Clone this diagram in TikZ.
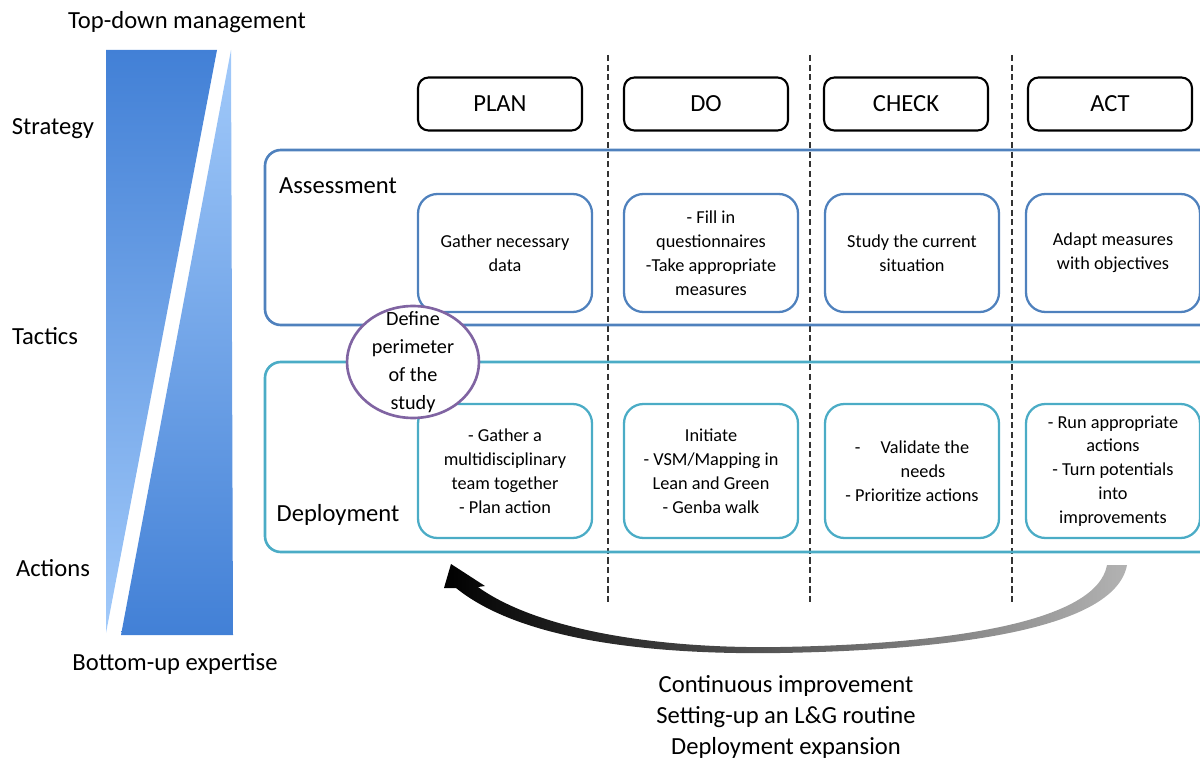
\documentclass[tikz,border=0pt]{standalone}
\usepackage{fontspec}
\setmainfont{Carlito}
\usetikzlibrary{shapes.geometric}
\definecolor{assblue}{RGB}{79,129,189}
\definecolor{depteal}{RGB}{75,172,198}
\definecolor{perpurple}{RGB}{128,100,162}
\definecolor{bardark}{RGB}{66,128,214}
\definecolor{barmid}{RGB}{92,148,224}
\definecolor{barlight}{RGB}{162,202,250}
\tikzstyle{lbl}=[font=\fontsize{14pt}{17.6pt}\selectfont,inner sep=0pt,align=center]
\tikzstyle{phase}=[draw=black,line width=1.2pt,rounded corners=6pt,minimum width=3.28cm,minimum height=1.06cm,font=\fontsize{14pt}{17pt}\selectfont]
\tikzstyle{abox}=[draw=assblue,line width=1.3pt,rounded corners=11pt,minimum width=3.48cm,minimum height=2.36cm,align=center,font=\fontsize{10.4pt}{13.6pt}\selectfont]
\tikzstyle{dbox}=[abox,draw=depteal,minimum height=2.68cm]
\tikzstyle{colsep}=[black!80,line width=0.6pt,dash pattern=on 3.5pt off 2pt]

\begin{document}
\begin{tikzpicture}[x=0.02cm,y=-0.02cm]
		\useasboundingbox (0,0) rectangle (1200,760);
		\clip (0,0) rectangle (1200,760);
		% left bar
		\shade[top color=bardark,middle color=barmid,bottom color=barlight] (106,50) -- (217,50) -- (106,633) -- cycle;
		\shade[top color=barlight,middle color=barmid,bottom color=bardark] (231,50) -- (233,635) -- (121,635) -- cycle;
		\node[lbl] (topdown) at (187,22) {Top-down management};
		\node[lbl] (strategy) at (53,129) {Strategy};
		\node[lbl] (tactics) at (45,336) {Tactics};
		\node[lbl] (actions) at (53,568) {Actions};
		\node[lbl] (bottomup) at (175,664) {Bottom-up expertise};
		% column separators
		\draw[colsep] (608,55) -- (608,605);
		\draw[colsep] (810,55) -- (810,605);
		\draw[colsep] (1012,55) -- (1012,605);
		% PDCA headers
		\node[phase] (plan) at (500,104) {PLAN};
		\node[phase] (do) at (706,104) {DO};
		\node[phase] (check) at (906,104) {CHECK};
		\node[phase] (act) at (1110,104) {ACT};
		% levels
		\draw[assblue,line width=1.5pt,rounded corners=9pt] (265,150) rectangle (1240,325);
		\draw[depteal,line width=1.5pt,rounded corners=9pt] (265,362) rectangle (1240,552);
		\node[lbl] (assess) at (338,186) {Assessment};
		\node[lbl] (deploy) at (338,515) {Deployment};
		% assessment boxes
		\node[abox] (aplan) at (505,253) {Gather necessary\\data};
		\node[abox] (ado) at (711,253) {- Fill in\\questionnaires\\-Take appropriate\\measures};
		\node[abox] (acheck) at (912,253) {Study the current\\situation};
		\node[abox] (aact) at (1113,253) {Adapt measures\\with objectives};
		% deployment boxes
		\node[dbox] (dplan) at (505,471) {- Gather a\\multidisciplinary\\team together\\- Plan action};
		\node[dbox] (ddo) at (711,471) {Initiate\\- VSM/Mapping in\\Lean and Green\\- Genba walk};
		\node[dbox] (dcheck) at (912,471) {-\hspace{1.1em}Validate the\\\hspace{1.2em}needs\\- Prioritize actions};
		\node[dbox] (dact) at (1113,471) {- Run appropriate\\actions\\- Turn potentials\\into\\improvements};
		% perimeter
		\node[ellipse,draw=perpurple,line width=1.5pt,fill=white,minimum width=2.64cm,minimum height=2.24cm,inner sep=0pt] (perim) at (413,362) {};
		\node[align=center,inner sep=0pt,font=\fontsize{11.5pt}{16pt}\selectfont] (perimtxt) at (perim) {Define\\perimeter\\of the\\study};
		% loop arrow
		\shade[left color=black,middle color=black!90,right color=gray!60]
			(456,588) .. controls (520,640) and (650,655) .. (780,653)
			.. controls (950,650) and (1115,630) .. (1127,565)
			-- (1107,565)
			.. controls (1097,622) and (950,644) .. (780,647)
			.. controls (650,649) and (535,628) .. (478,587)
			-- (485,586) -- (451,564) -- (444,588) -- cycle;
		\node[lbl] (loop) at (786,717) {Continuous improvement\\Setting-up an L\&G routine\\Deployment expansion};
	\end{tikzpicture}
\end{document}
